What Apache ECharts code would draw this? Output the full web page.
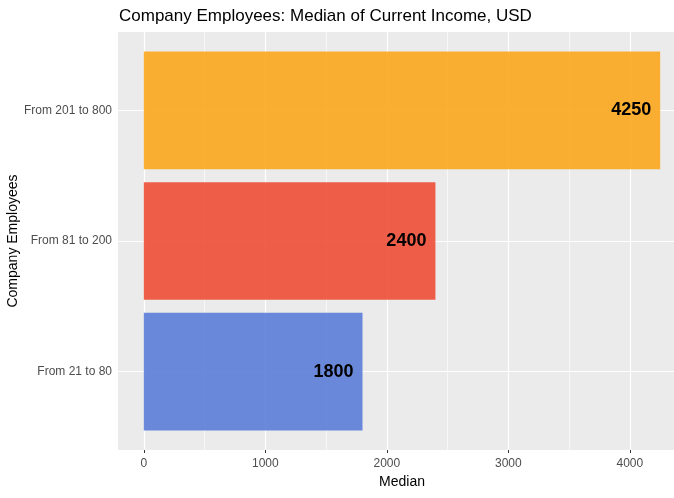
<!DOCTYPE html>
<html>
<head>
<meta charset="utf-8">
<script src="https://cdn.jsdelivr.net/npm/echarts@6/dist/echarts.min.js"></script>
<style>html,body{margin:0;padding:0;background:#fff}#c{width:674px;height:498px}</style>
</head>
<body>
<div id="c"></div>
<script>
const categories = ['From 21 to 80', 'From 81 to 200', 'From 201 to 800'];
const medians = [1800, 2400, 4250];
const barColors = ['rgba(92,125,216,0.9)', 'rgba(238,78,54,0.9)', 'rgba(252,167,29,0.9)'];
const xMajorTicks = [0, 1000, 2000, 3000, 4000];
const xMinorTicks = [500, 1500, 2500, 3500];

const FONT = '"Liberation Sans", Arial, sans-serif';
const xMax = Math.max(...medians);
const xPad = xMax * 0.05;
const xMin = -xPad, xMaxA = xMax + xPad;
const yMin = 1 - 0.6, yMax = categories.length + 0.6;
const panel = { left: 118, top: 32, width: 568, height: 418 };
const pxPerUnit = panel.height / (yMax - yMin);
const g1Top = panel.top + (yMax - (categories.length + 0.5)) * pxPerUnit;
const g1Height = categories.length * pxPerUnit;

const gridLines = [];
xMajorTicks.forEach(v => gridLines.push({ xAxis: v, lineStyle: { color: '#ffffff', width: 1.2, type: 'solid' } }));
xMinorTicks.forEach(v => gridLines.push({ xAxis: v, lineStyle: { color: '#ffffff', width: 0.6, type: 'solid' } }));
categories.forEach((c, i) => gridLines.push({ yAxis: i + 1, lineStyle: { color: '#ffffff', width: 1.2, type: 'solid' } }));

const chart = echarts.init(document.getElementById('c'), null, { renderer: 'canvas' });
chart.setOption({
  animation: false,
  backgroundColor: '#ffffff',
  textStyle: { fontFamily: FONT },
  title: {
    text: 'Company Employees: Median of Current Income, USD',
    left: 119, top: 8, padding: 0,
    textStyle: { fontFamily: FONT, fontSize: 17, fontWeight: 'normal', color: '#000000' }
  },
  grid: [
    { left: panel.left, top: panel.top, width: panel.width, height: panel.height,
      outerBoundsMode: 'none', containLabel: false,
      show: true, backgroundColor: '#EBEBEB', borderWidth: 0 },
    { left: panel.left, top: g1Top, width: panel.width, height: g1Height,
      outerBoundsMode: 'none', containLabel: false, show: false }
  ],
  xAxis: [
    { type: 'value', gridIndex: 0, min: xMin, max: xMaxA,
      name: 'Median', nameLocation: 'middle', nameGap: 25,
      nameTextStyle: { fontFamily: FONT, fontSize: 14, color: '#000000' },
      axisLine: { show: false },
      axisTick: { show: true, length: 3, lineStyle: { color: '#333333' }, customValues: xMajorTicks },
      axisLabel: { color: '#4D4D4D', fontSize: 12, fontFamily: FONT, margin: 8, customValues: xMajorTicks,
        formatter: v => String(v) },
      splitLine: { show: false } },
    { type: 'value', gridIndex: 1, min: xMin, max: xMaxA, show: false }
  ],
  yAxis: [
    { type: 'value', gridIndex: 0, min: yMin, max: yMax, show: false },
    { type: 'category', gridIndex: 1, data: categories,
      name: 'Company Employees', nameLocation: 'middle', nameGap: 98, nameRotate: 90,
      nameMoveOverlap: false,
      nameTextStyle: { fontFamily: FONT, fontSize: 14, color: '#000000' },
      axisLine: { show: false },
      axisTick: { show: true, length: 3, alignWithLabel: true, lineStyle: { color: '#333333' } },
      axisLabel: { color: '#4D4D4D', fontSize: 12, fontFamily: FONT, margin: 6 },
      splitLine: { show: false } }
  ],
  series: [
    { type: 'line', xAxisIndex: 0, yAxisIndex: 0, data: [], z: 1, silent: true,
      markLine: { silent: true, symbol: ['none', 'none'], label: { show: false }, animation: false, data: gridLines } },
    { type: 'bar', xAxisIndex: 1, yAxisIndex: 1, z: 3, zlevel: 1, barWidth: '90%',
      data: medians.map((v, i) => ({ value: v, itemStyle: { color: barColors[i] } })),
      label: { show: true, position: 'insideRight', distance: 9, color: '#000000',
        textBorderWidth: 0, textBorderColor: 'transparent',
        fontSize: 18, fontWeight: 'bold', fontFamily: FONT } }
  ]
});
</script>
</body>
</html>
